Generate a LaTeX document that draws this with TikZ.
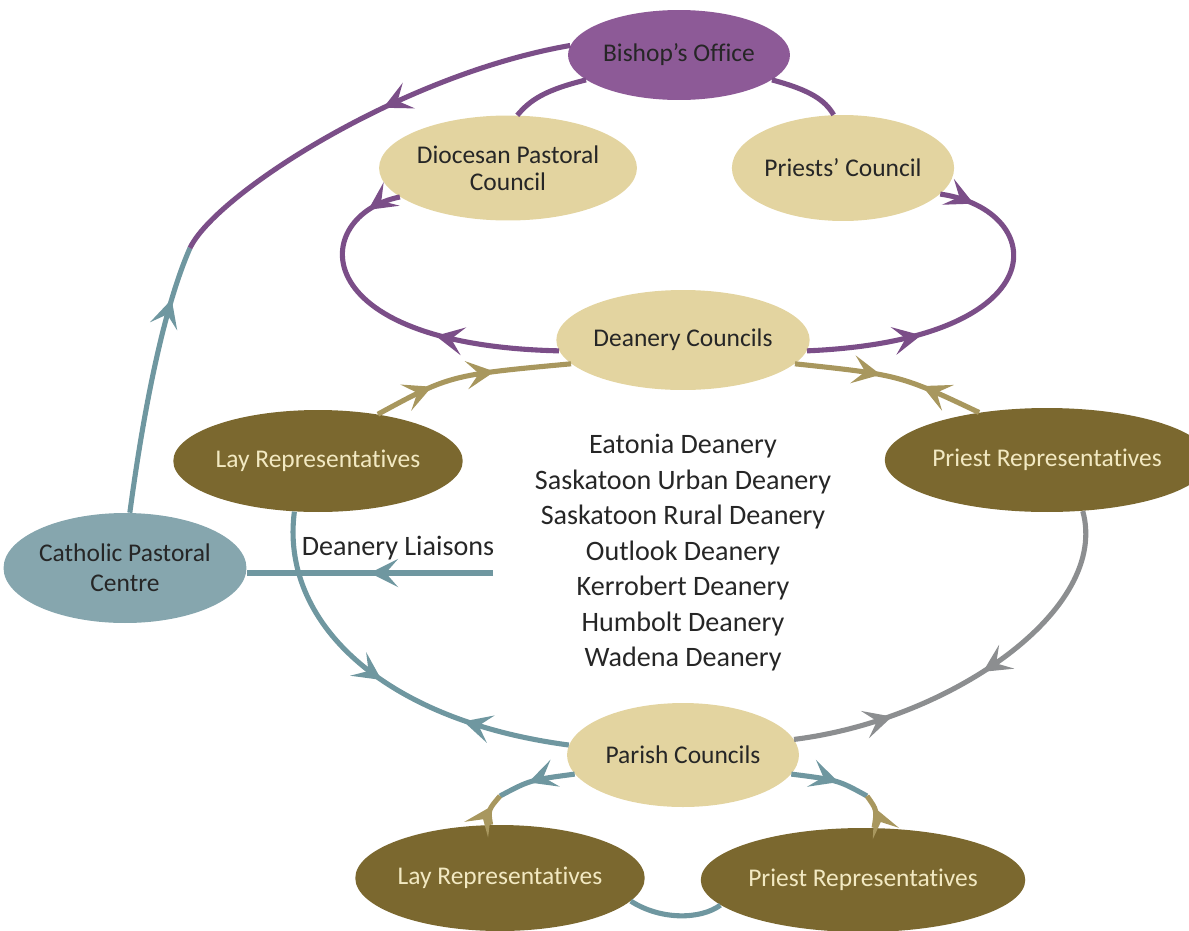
\documentclass[tikz,border=0pt]{standalone}
\usepackage{fontspec}
\setmainfont{Carlito}[Ligatures=NoCommon]
\usepackage{tikz}
\usetikzlibrary{positioning,shapes,arrows.meta,decorations.markings,calc}
\definecolor{bishopfill}{HTML}{8D5A97}
\definecolor{purpleline}{HTML}{7B4E88}
\definecolor{tanfill}{HTML}{E3D4A0}
\definecolor{olivefill}{HTML}{7B682F}
\definecolor{oliveline}{HTML}{A8975E}
\definecolor{tealfill}{HTML}{86A6AE}
\definecolor{tealline}{HTML}{6F97A0}
\definecolor{greyline}{HTML}{8C8E90}
\definecolor{darktext}{HTML}{262626}
\definecolor{lighttext}{HTML}{F2E9C2}

\begin{document}
\begin{tikzpicture}[x=0.02cm,y=-0.02cm,
  head/.tip={Stealth[length=16pt,width=16pt,inset=7pt]},
  council/.style={ellipse,fill=tanfill,text=darktext,inner sep=0pt,align=center,font=\fontsize{14.5}{15.5}\selectfont},
  reps/.style={ellipse,fill=olivefill,text=lighttext,inner sep=0pt,align=center,font=\fontsize{14.5}{16}\selectfont},
  fwd/.style={postaction={decorate,decoration={markings,mark=at position #1 with {\arrow{head}}}}},
  bwd/.style={postaction={decorate,decoration={markings,mark=at position #1 with {\arrow{head[reversed]}}}}},
  link/.style={line width=2.9pt,draw=#1}]
\useasboundingbox (0,0) rectangle (1189,930);

\node[council,fill=bishopfill,minimum width=4.44cm,minimum height=1.8cm] (bishop) at (679,55) {Bishop's Office};
\node[council,minimum width=4.2cm,minimum height=2.1cm] (dpc) at (508,168) {Diocesan Pastoral\\Council};
\node[council,minimum width=4.28cm,minimum height=2.12cm] (pcouncil) at (843,168) {Priests' Council};
\node[council,minimum width=4.64cm,minimum height=2cm] (deanery) at (683,340) {Deanery Councils};
\node[reps,minimum width=5.64cm,minimum height=2.04cm] (layup) at (318,461) {Lay Representatives};
\node[reps,minimum width=5.6cm,minimum height=2.08cm] (priestup) at (1047,460) {Priest Representatives};
\node[council,fill=tealfill,font=\fontsize{14.5}{17}\selectfont,minimum width=4.6cm,minimum height=2.2cm] (cpc) at (125,568) {Catholic Pastoral\\Centre};
\node[council,minimum width=4.64cm,minimum height=2.08cm] (parish) at (683,755) {Parish Councils};
\node[reps,minimum width=5.64cm,minimum height=2.12cm] (laylow) at (500,878) {Lay Representatives};
\node[reps,minimum width=5.68cm,minimum height=2.08cm] (priestlow) at (863,880) {Priest Representatives};

\node[text=darktext,align=center,font=\fontsize{16}{20.2}\selectfont] (deaneries) at (683,553)
  {Eatonia Deanery\\Saskatoon Urban Deanery\\Saskatoon Rural Deanery\\Outlook Deanery\\Kerrobert Deanery\\Humbolt Deanery\\Wadena Deanery};
\node[text=darktext,font=\fontsize{16}{19}\selectfont] (liaisonlabel) at (398,548) {Deanery Liaisons};

\coordinate (bend) at (190,248);
\coordinate (liaison) at (493,573);
\coordinate (jl) at (500,796);
\coordinate (jr) at (867,796);

\draw[link=tealline,fwd=.8] (cpc.85) .. controls (145,400) and (165,305) .. (bend);
\draw[link=purpleline,fwd=.45] (bishop.175) .. controls (400,75) and (215,195) .. (bend);
\draw[link=purpleline] (bishop.195) .. controls (545,90) and (530,100) .. (dpc.80);
\draw[link=purpleline] (bishop.345) .. controls (810,90) and (825,100) .. (pcouncil.100);
\draw[link=purpleline,fwd=.1,bwd=.72] (dpc.195) .. controls (310,215) and (300,345) .. (deanery.185);
\draw[link=purpleline,fwd=.1,bwd=.75] (pcouncil.345) .. controls (1050,210) and (1060,340) .. (deanery.355);
\draw[link=oliveline,fwd=.3,fwd=.62] (layup.38) .. controls (450,375) .. (deanery.192);
\draw[link=oliveline,fwd=.45,bwd=.82] (deanery.348) .. controls (900,375) .. (priestup.145);
\draw[link=tealline,fwd=.5,bwd=.8] (layup.245) .. controls (280,620) and (380,720) .. (parish.175);
\draw[link=greyline,fwd=.5,bwd=.82] (priestup.305) .. controls (1110,610) and (950,720) .. (parish.8);
\draw[link=tealline,fwd=.6] (parish.190) .. controls (530,780) .. (jl);
\draw[link=oliveline,fwd=.6] (laylow.100) .. controls (488,810) .. (jl);
\draw[link=tealline,fwd=.6] (parish.350) .. controls (838,780) .. (jr);
\draw[link=oliveline,fwd=.6] (priestlow.78) .. controls (877,810) .. (jr);
\draw[link=tealline] (laylow.350) .. controls (660,920) and (700,920) .. (priestlow.190);
\draw[link=tealline,fwd=.5] (liaison) -- (liaison -| cpc.east);
\end{tikzpicture}
\end{document}
